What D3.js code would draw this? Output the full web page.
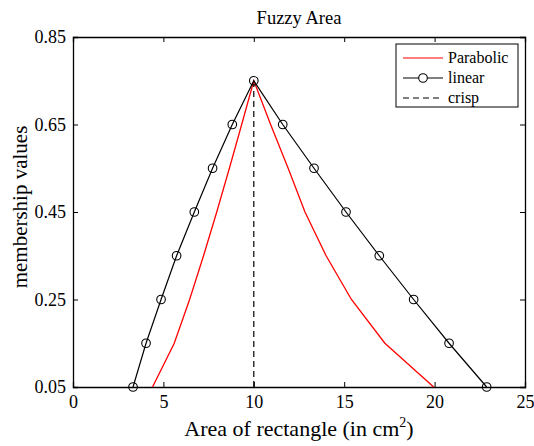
<!DOCTYPE html>
<html>
<head>
<meta charset="utf-8">
<script src="https://cdn.jsdelivr.net/npm/d3@7"></script>
<style>
body { margin: 0; background: #fff; }
text { font-family: "Liberation Serif", "Times New Roman", serif; fill: #000; }
</style>
</head>
<body>
<div id="chart"></div>
<script>
// values
var linearX = [3.32, 4.04, 4.87, 5.73, 6.71, 7.72, 8.81, 10, 11.6, 13.33, 15.1, 16.94, 18.84, 20.8, 22.88];
var linearY = [0.05, 0.15, 0.25, 0.35, 0.45, 0.55, 0.65, 0.75, 0.65, 0.55, 0.45, 0.35, 0.25, 0.15, 0.05];
var parabolicX = [4.4, 5.6, 6.45, 7.22, 7.95, 8.65, 9.33, 10, 10.93, 11.9, 12.83, 14.0, 15.4, 17.25, 19.95];
var parabolicY = [0.05, 0.15, 0.25, 0.35, 0.45, 0.55, 0.65, 0.75, 0.65, 0.55, 0.45, 0.35, 0.25, 0.15, 0.05];
var crispX = [10, 10];
var crispY = [0.05, 0.75];
var xTicks = [0, 5, 10, 15, 20, 25];
var yTicks = [0.05, 0.25, 0.45, 0.65, 0.85];
var legendNames = ["Parabolic", "linear", "crisp"];

var width = 534;
var height = 446;
var margin = { top: 37, right: 9, bottom: 59, left: 73 };
var w = width - margin.left - margin.right;
var h = height - margin.top - margin.bottom;

var svg = d3.select("#chart")
    .append("svg")
    .attr("width", width)
    .attr("height", height);

var g = svg.append("g")
    .attr("transform", "translate(" + margin.left + "," + margin.top + ")");

var x = d3.scaleLinear().domain([0, 25]).range([0, w]);
var y = d3.scaleLinear().domain([0.05, 0.85]).range([h, 0]);

// axes, MATLAB style: ticks inside, box all round
var tickLen = 5;
var xBottom = g.append("g").attr("transform", "translate(0," + h + ")")
    .call(d3.axisBottom(x).tickValues(xTicks).tickSize(-tickLen).tickPadding(8).tickFormat(d3.format("d")));
var xTop = g.append("g")
    .call(d3.axisTop(x).tickValues(xTicks).tickSize(-tickLen).tickFormat(""));
var yLeft = g.append("g")
    .call(d3.axisLeft(y).tickValues(yTicks).tickSize(-tickLen).tickPadding(7).tickFormat(d3.format(".2f")));
var yRight = g.append("g").attr("transform", "translate(" + w + ",0)")
    .call(d3.axisRight(y).tickValues(yTicks).tickSize(-tickLen).tickFormat(""));

[xBottom, xTop, yLeft, yRight].forEach(function (a) {
    a.attr("font-family", null).attr("font-size", null);
    a.select(".domain").attr("stroke", "#000").attr("stroke-width", 1.3);
    a.selectAll(".tick line").attr("stroke", "#000");
    a.selectAll(".tick text").style("font-size", "18px").attr("fill", "#000")
        .style("font-family", "'Liberation Serif', serif");
});

var line = d3.line()
    .x(function (d) { return x(d[0]); })
    .y(function (d) { return y(d[1]); });

var parabolic = parabolicX.map(function (v, i) { return [v, parabolicY[i]]; });
var linear = linearX.map(function (v, i) { return [v, linearY[i]]; });
var crisp = crispX.map(function (v, i) { return [v, crispY[i]]; });

g.append("path")
    .datum(crisp)
    .attr("d", line)
    .attr("fill", "none")
    .attr("stroke", "#000")
    .attr("stroke-width", 1.2)
    .attr("stroke-dasharray", "6,4");

g.append("path")
    .datum(parabolic)
    .attr("d", line)
    .attr("fill", "none")
    .attr("stroke", "#ff0000")
    .attr("stroke-width", 1.3);

g.append("path")
    .datum(linear)
    .attr("d", line)
    .attr("fill", "none")
    .attr("stroke", "#000")
    .attr("stroke-width", 1.2);

g.selectAll(".pt")
    .data(linear)
    .enter()
    .append("circle")
    .attr("class", "pt")
    .attr("cx", function (d) { return x(d[0]); })
    .attr("cy", function (d) { return y(d[1]); })
    .attr("r", 4.3)
    .attr("fill", "none")
    .attr("stroke", "#000")
    .attr("stroke-width", 1.1);

// title and axis labels
svg.append("text")
    .attr("x", margin.left + w / 2)
    .attr("y", 24)
    .attr("text-anchor", "middle")
    .style("font-size", "18.5px")
    .text("Fuzzy Area");

var xl = svg.append("text")
    .attr("x", margin.left + w / 2)
    .attr("y", 436)
    .attr("text-anchor", "middle")
    .style("font-size", "22px");
xl.append("tspan").text("Area of rectangle (in cm");
xl.append("tspan").attr("dy", -9).style("font-size", "14px").text("2");
xl.append("tspan").attr("dy", 9).text(")");

svg.append("text")
    .attr("transform", "translate(27,207) rotate(-90)")
    .attr("text-anchor", "middle")
    .style("font-size", "21px")
    .text("membership values");

// legend
var lg = svg.append("g").attr("transform", "translate(396,44)");
lg.append("rect")
    .attr("width", 122)
    .attr("height", 63)
    .attr("fill", "#fff")
    .attr("stroke", "#000")
    .attr("stroke-width", 1);

var styles = [
    { color: "#ff0000", dash: null, marker: false },
    { color: "#000", dash: null, marker: true },
    { color: "#000", dash: "6,4", marker: false }
];

legendNames.forEach(function (name, i) {
    var yy = 14 + i * 20;
    var s = styles[i];
    lg.append("line")
        .attr("x1", 7).attr("x2", 47)
        .attr("y1", yy).attr("y2", yy)
        .attr("stroke", s.color)
        .attr("stroke-width", 1.2)
        .attr("stroke-dasharray", s.dash);
    if (s.marker) {
        lg.append("circle")
            .attr("cx", 27).attr("cy", yy).attr("r", 4.3)
            .attr("fill", "#fff").attr("stroke", "#000").attr("stroke-width", 1.1);
    }
    lg.append("text")
        .attr("x", 52)
        .attr("y", yy + 5)
        .style("font-size", "16px")
        .text(name);
});
</script>
</body>
</html>
